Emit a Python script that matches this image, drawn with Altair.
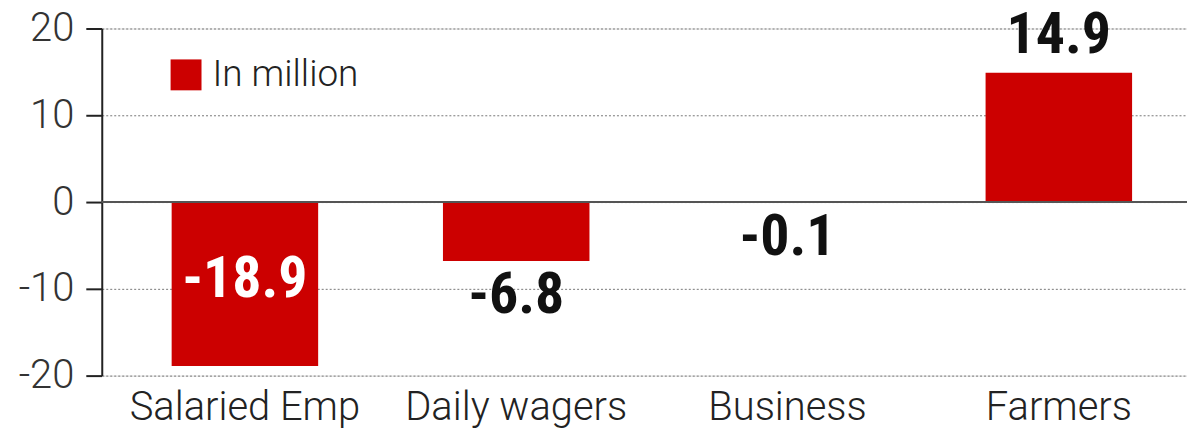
import altair as alt
import pandas as pd

categories = ["Salaried Emp", "Daily wagers", "Business", "Farmers"]
values = [-18.9, -6.8, -0.1, 14.9]
labels = ["-18.9", "-6.8", "-0.1", "14.9"]
series = ["In million"] * 4

df = pd.DataFrame({"category": categories, "value": values, "label": labels, "series": series})

RED = "#cc0000"
LABEL_FONT = "Roboto Condensed, Liberation Sans Narrow, Roboto"
AXIS_FONT = "Roboto"

x_enc = alt.X(
    "category:N",
    sort=categories,
    title=None,
    scale=alt.Scale(paddingInner=0.46, paddingOuter=0.23, align=0.56),
    axis=alt.Axis(domain=False, ticks=False, labelAngle=0, labelFontSize=40,
                  labelFont=AXIS_FONT, labelFontWeight=300, labelColor="#222",
                  labelPadding=12, labelLimit=0),
)
y_scale = alt.Scale(domain=[-20, 20], nice=False)

base = alt.Chart(df)

bars = base.mark_bar(color=RED).encode(
    x=x_enc,
    y=alt.Y("value:Q", scale=y_scale, title=None,
            axis=alt.Axis(values=[-20, -10, 0, 10, 20], grid=True, gridColor="#777",
                          gridDash=[2, 2], gridWidth=1, domainColor="#222",
                          domainWidth=2, tickColor="#222", tickWidth=2, tickSize=16,
                          labelFontSize=40, labelFont=AXIS_FONT, labelFontWeight=300,
                          labelColor="#333", labelPadding=12,
                          labelExpr="'' + datum.value")),
    color=alt.Color("series:N", scale=alt.Scale(range=[RED]), title=None,
                    legend=alt.Legend(orient="none", legendX=66, legendY=28,
                                      symbolType="square", symbolSize=961,
                                      symbolStrokeWidth=0, labelFontSize=37,
                                      labelFont=AXIS_FONT, labelFontWeight=300,
                                      labelColor="#222", padding=0, labelOffset=8)),
)

zero = alt.Chart(df).mark_rule(color="#555", strokeWidth=2).encode(y=alt.datum(0))

text_common = dict(font=LABEL_FONT, fontWeight="bold", fontSize=58)

pos_text = base.transform_filter("datum.value >= 0").mark_text(
    color="#111", baseline="bottom", dy=-8, **text_common
).encode(x=alt.X("category:N", sort=categories), y=alt.Y("value:Q", scale=y_scale), text="label:N")

neg_text = base.transform_filter("datum.value < 0 && datum.value > -15").mark_text(
    color="#111", baseline="top", dy=6, **text_common
).encode(x=alt.X("category:N", sort=categories), y=alt.Y("value:Q", scale=y_scale), text="label:N")

in_text = base.transform_filter("datum.value <= -15").transform_calculate(
    mid="datum.value / 2"
).mark_text(
    color="white", baseline="middle", dy=-4, **text_common
).encode(x=alt.X("category:N", sort=categories), y=alt.Y("mid:Q", scale=y_scale), text="label:N")

chart = alt.layer(bars, zero, pos_text, neg_text, in_text).properties(
    width=1088, height=348,
    autosize=alt.AutoSizeParams(type="none"),
    padding={"left": 94, "top": 20, "right": 0, "bottom": 62},
).configure_view(stroke=None).configure(background="white")

chart.save("out.html", embed_options={"renderer": "svg", "actions": False})
